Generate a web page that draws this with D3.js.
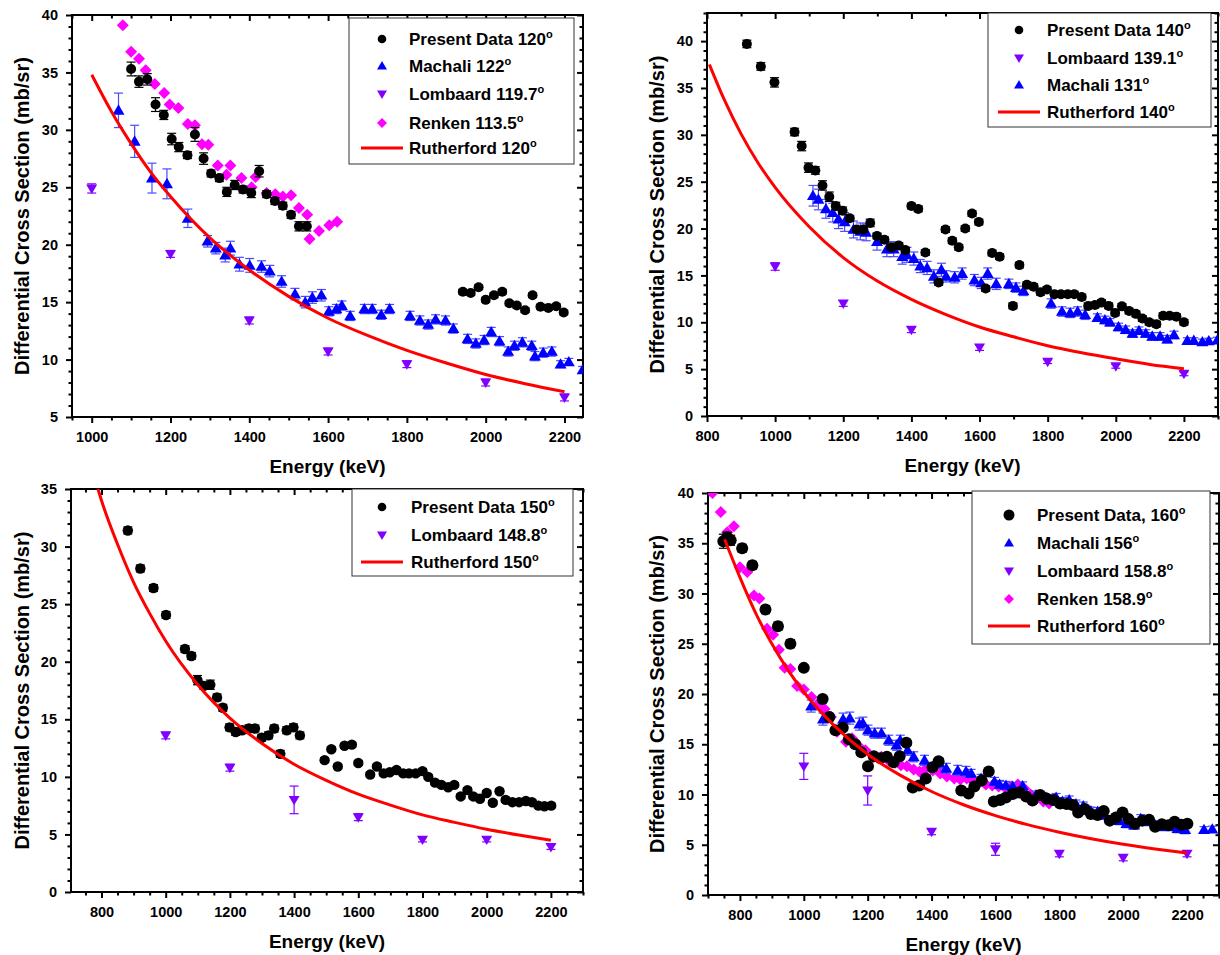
<!DOCTYPE html>
<html>
<head>
<meta charset="utf-8">
<script src="https://cdn.jsdelivr.net/npm/d3@7"></script>
<style>
  body { margin: 0; background: #fff; }
</style>
</head>
<body>
<svg id="chart" width="1220" height="955"></svg>
<script>
// ---------- data: [energy keV, cross section mb/sr, error] ----------
// 120 degrees
const present120 = [[1100,35.3,0.6],[1120,34.2,0.5],[1141,34.4,0.5],[1162,32.2,0.6],[1183,31.3,0.4],[1203,29.2,0.5],[1221,28.5,0.4],[1243,27.8,0.3],[1262,29.6,0.6],[1284,27.5,0.5],[1303,26.2,0.3],[1324,25.8,0.3],[1343,24.6,0.4],[1363,25.2,0.4],[1384,24.8,0.3],[1405,24.5,0.4],[1425,26.4,0.5],[1444,24.4,0.3],[1465,23.8,0.3],[1485,23.4,0.3],[1506,22.6,0.3],[1526,21.6,0.4],[1546,21.6,0.4],[1942,15.9,0.2],[1962,15.8,0.2],[1982,16.3,0.2],[2000,15.2,0.2],[2021,15.6,0.2],[2042,15.9,0.2],[2060,14.9,0.2],[2079,14.7,0.2],[2100,14.3,0.2],[2119,15.6,0.2],[2139,14.6,0.2],[2159,14.5,0.2],[2179,14.65,0.2],[2198,14.1,0.2]];
const machali122 = [[1068,31.7,1.5],[1109,29.0,1.4],[1153,25.8,1.3],[1191,25.3,1.3],[1244,22.3,0.8],[1294,20.3,0.5],[1315,19.7,0.5],[1339,19.1,0.6],[1352,19.7,0.6],[1375,18.3,0.6],[1401,18.2,0.6],[1431,18.1,0.5],[1452,17.7,0.5],[1482,16.8,0.5],[1516,15.7,0.5],[1542,15.0,0.5],[1560,15.4,0.5],[1583,15.6,0.5],[1602,14.2,0.4],[1621,14.4,0.4],[1635,14.7,0.4],[1656,13.8,0.4],[1692,14.4,0.4],[1712,14.4,0.4],[1735,13.9,0.4],[1756,14.4,0.4],[1808,13.8,0.4],[1833,13.4,0.4],[1854,13.05,0.4],[1873,13.5,0.4],[1898,13.4,0.4],[1918,12.7,0.4],[1954,11.8,0.4],[1975,11.4,0.4],[1996,11.7,0.4],[2014,12.4,0.4],[2035,11.6,0.4],[2057,10.7,0.4],[2073,11.2,0.4],[2093,11.5,0.4],[2117,11.2,0.4],[2125,10.3,0.4],[2146,10.6,0.4],[2168,10.7,0.4],[2190,9.6,0.3],[2211,9.8,0.3],[2246,9.1,0.3]];
const lombaard119 = [[1000,24.9,0.4],[1200,19.2,0.3],[1400,13.4,0.3],[1600,10.7,0.3],[1800,9.6,0.3],[2000,8.0,0.3],[2200,6.7,0.3]];
const renken113 = [[1079,39.1],[1100,36.8],[1120,36.2],[1137,35.2],[1160,34.0],[1184,33.2],[1198,32.2],[1220,31.9],[1244,30.5],[1262,30.4],[1280,28.75],[1296,28.7],[1320,26.9],[1342,26.1],[1352,26.9],[1380,25.8],[1406,25.0],[1416,25.9],[1444,24.5],[1466,24.4],[1485,24.2],[1506,24.3],[1526,23.2],[1547,22.6],[1553,20.5],[1577,21.2],[1603,21.7],[1623,22.0]];
const ruth120 = [[1000,34.8],[1050,31.6],[1100,28.8],[1150,26.3],[1200,24.2],[1300,20.6],[1400,17.8],[1500,15.5],[1600,13.6],[1700,12.1],[1800,10.8],[1900,9.7],[2000,8.7],[2100,7.9],[2200,7.2]];

// 140 degrees
const present140 = [[917,39.7,0.4],[958,37.3,0.4],[998,35.6,0.5],[1057,30.3,0.4],[1078,28.8,0.5],[1098,26.5,0.5],[1118,26.2,0.4],[1139,24.6,0.5],[1159,23.4,0.5],[1178,22.4,0.4],[1198,21.9,0.4],[1219,21.1,0.3],[1240,19.9,0.3],[1259,19.9,0.3],[1279,20.6,0.4],[1299,19.2,0.3],[1321,18.8,0.3],[1341,18.0,0.3],[1363,18.2,0.3],[1382,17.7,0.3],[1400,22.4,0.3],[1420,22.1,0.3],[1441,17.45,0.3],[1480,14.25,0.3],[1500,19.9,0.3],[1520,18.7,0.3],[1539,18.0,0.3],[1558,20.0,0.3],[1578,21.6,0.3],[1598,20.7,0.3],[1618,13.6,0.3],[1637,17.4,0.3],[1659,17.0,0.3],[1698,11.75,0.3],[1717,16.1,0.3],[1739,14.0,0.3],[1759,13.8,0.3],[1779,13.2,0.3],[1798,13.5,0.3],[1820,13.0,0.3],[1839,13.0,0.3],[1859,13.0,0.3],[1878,13.0,0.3],[1900,12.7,0.3],[1919,11.75,0.3],[1939,11.85,0.3],[1958,12.1,0.3],[1979,11.75,0.3],[1998,11.0,0.3],[2018,11.7,0.3],[2039,11.2,0.3],[2059,10.9,0.3],[2078,10.4,0.3],[2098,10.0,0.3],[2119,9.8,0.3],[2139,10.7,0.3],[2158,10.7,0.3],[2178,10.6,0.3],[2200,10.0,0.3]];
const lombaard139 = [[1000,15.95,0.4],[1200,12.0,0.3],[1400,9.2,0.3],[1600,7.3,0.3],[1800,5.8,0.2],[2000,5.3,0.2],[2200,4.5,0.2]];
const machali131 = [[1111,23.5,1.1],[1127,23.1,1.1],[1149,22.1,1.0],[1169,21.7,1.0],[1186,21.0,1.0],[1204,20.7,1.0],[1230,19.9,0.9],[1250,19.7,0.9],[1267,19.6,0.9],[1299,18.6,0.9],[1328,17.8,0.8],[1348,17.8,0.8],[1373,17.0,0.8],[1387,17.2,0.8],[1407,16.8,0.7],[1426,16.0,0.7],[1446,15.8,0.7],[1466,14.9,0.7],[1488,15.6,0.7],[1502,14.9,0.6],[1527,14.8,0.6],[1549,15.2,0.6],[1585,14.5,0.6],[1605,14.2,0.6],[1624,15.2,0.6],[1649,14.1,0.6],[1686,14.1,0.5],[1707,13.7,0.5],[1729,13.35,0.5],[1810,12.0,0.5],[1842,11.15,0.5],[1866,11.0,0.5],[1888,11.15,0.5],[1910,10.8,0.5],[1946,10.5,0.4],[1968,10.25,0.4],[1983,10.0,0.4],[2008,9.5,0.4],[2029,9.2,0.4],[2049,8.8,0.4],[2068,9.1,0.4],[2088,8.8,0.4],[2107,8.5,0.4],[2130,8.5,0.4],[2151,8.2,0.4],[2171,8.65,0.4],[2210,8.05,0.3],[2229,8.05,0.3],[2254,7.9,0.3],[2273,8.0,0.3],[2298,8.1,0.3]];
const ruth140 = [[807,37.5],[850,33.8],[900,30.1],[950,27.0],[1000,24.4],[1100,20.2],[1200,16.9],[1300,14.4],[1400,12.45],[1500,10.85],[1600,9.5],[1700,8.45],[1800,7.5],[1900,6.75],[2000,6.1],[2100,5.5],[2200,5.05]];

// 150 degrees
const present150 = [[882,31.4,0.3],[921,28.1,0.3],[962,26.4,0.3],[1001,24.06,0.3],[1060,21.1,0.3],[1080,20.5,0.3],[1099,18.4,0.4],[1119,17.9,0.3],[1139,18.0,0.4],[1160,16.9,0.3],[1178,16.0,0.3],[1199,14.3,0.3],[1218,13.9,0.3],[1238,14.05,0.3],[1259,14.2,0.3],[1278,14.2,0.3],[1299,13.4,0.3],[1320,13.6,0.3],[1338,14.2,0.3],[1357,12.0,0.3],[1377,14.05,0.3],[1398,14.3,0.3],[1418,13.6,0.3],[1495,11.45,0.2],[1516,12.4,0.2],[1536,10.9,0.2],[1557,12.7,0.2],[1580,12.8,0.2],[1600,11.2,0.2],[1637,10.2,0.2],[1658,10.9,0.2],[1679,10.3,0.2],[1698,10.4,0.2],[1719,10.6,0.2],[1740,10.3,0.2],[1758,10.3,0.2],[1779,10.3,0.2],[1800,10.5,0.2],[1818,10.0,0.2],[1839,9.5,0.2],[1859,9.3,0.2],[1880,9.1,0.2],[1899,9.3,0.2],[1919,8.3,0.2],[1940,8.85,0.2],[1958,8.3,0.2],[1979,8.1,0.2],[2000,8.6,0.2],[2019,7.75,0.2],[2040,8.75,0.2],[2059,8.0,0.2],[2080,7.8,0.2],[2101,7.8,0.2],[2122,7.9,0.2],[2141,7.8,0.2],[2161,7.5,0.2],[2180,7.45,0.2],[2201,7.5,0.2]];
const lombaard148 = [[1000,13.6,0.3],[1200,10.8,0.3],[1400,8.0,1.2],[1600,6.5,0.3],[1800,4.55,0.2],[2000,4.55,0.2],[2200,3.9,0.2]];
const ruth150 = [[789,35.0],[800,34.0],[850,30.2],[900,26.9],[950,24.2],[1000,21.8],[1100,18.0],[1200,15.1],[1300,12.9],[1400,11.1],[1500,9.7],[1600,8.5],[1700,7.55],[1800,6.7],[1900,6.05],[2000,5.45],[2100,4.95],[2200,4.5]];

// 160 degrees
const present160 = [[748,35.2,0.7],[760,35.6,0.5],[771,35.3,0.5],[807,34.5,0.4],[839,32.8,0.4],[880,28.4,0.4],[919,26.75,0.4],[958,25.0,0.4],[1000,22.6,0.3],[1059,19.5,0.3],[1080,17.7,0.3],[1099,16.4,0.3],[1122,16.65,0.3],[1141,15.5,0.3],[1161,15.0,0.3],[1180,14.2,0.3],[1201,12.8,0.3],[1219,13.8,0.3],[1240,13.6,0.3],[1260,13.75,0.3],[1281,13.2,0.3],[1300,13.8,0.3],[1321,15.15,0.3],[1341,10.7,0.3],[1361,10.9,0.3],[1382,11.6,0.3],[1403,12.7,0.3],[1422,13.3,0.3],[1493,10.4,0.2],[1516,10.1,0.2],[1534,10.8,0.2],[1557,11.4,0.2],[1579,12.3,0.2],[1595,9.3,0.2],[1615,9.45,0.2],[1633,9.7,0.2],[1654,10.05,0.2],[1675,10.2,0.2],[1696,9.8,0.2],[1716,9.4,0.2],[1740,9.95,0.2],[1760,9.6,0.2],[1781,9.45,0.2],[1802,9.1,0.2],[1823,9.05,0.2],[1842,8.95,0.2],[1859,8.2,0.2],[1880,8.55,0.2],[1899,8.05,0.2],[1920,7.95,0.2],[1939,8.35,0.2],[1958,7.4,0.2],[1977,7.7,0.2],[1998,8.2,0.2],[2017,7.55,0.2],[2037,7.1,0.2],[2060,7.4,0.2],[2081,7.5,0.2],[2100,6.8,0.2],[2121,7.05,0.2],[2142,6.95,0.2],[2161,7.3,0.2],[2182,7.0,0.2],[2201,7.1,0.2]];
const machali156 = [[1023,18.8,0.6],[1060,17.5,0.6],[1123,17.5,0.6],[1144,17.6,0.6],[1174,17.0,0.6],[1185,17.1,0.6],[1201,16.4,0.5],[1222,16.1,0.5],[1243,16.1,0.5],[1266,15.4,0.5],[1290,14.9,0.5],[1302,15.4,0.5],[1325,14.4,0.5],[1344,13.75,0.5],[1378,13.4,0.5],[1425,13.1,0.5],[1446,12.6,0.5],[1482,12.4,0.5],[1508,12.3,0.5],[1524,12.1,0.4],[1555,11.6,0.4],[1597,11.3,0.4],[1613,11.0,0.4],[1633,10.9,0.4],[1654,10.8,0.4],[1685,10.85,0.4],[1727,9.95,0.4],[1748,9.8,0.4],[1769,9.45,0.4],[1790,9.7,0.4],[1810,9.3,0.4],[1831,9.45,0.4],[1852,9.05,0.4],[1875,8.85,0.4],[1899,8.35,0.4],[1920,8.3,0.4],[1943,7.95,0.4],[1967,7.5,0.4],[1988,7.4,0.4],[2010,7.1,0.4],[2034,6.95,0.4],[2055,7.6,0.4],[2079,7.3,0.4],[2102,6.95,0.4],[2125,6.8,0.4],[2149,6.8,0.4],[2170,6.6,0.4],[2194,6.5,0.4],[2253,6.5,0.3],[2279,6.55,0.3]];
const lombaard158 = [[1000,12.8,1.3],[1200,10.4,1.45],[1400,6.3,0.3],[1600,4.55,0.6],[1800,4.1,0.3],[2000,3.7,0.3],[2200,4.1,0.3]];
const renken158 = [[714,40.0],[740,38.1],[760,36.1],[781,36.7],[800,32.6],[823,32.15],[844,29.8],[861,29.5],[885,26.5],[904,25.9],[922,24.4],[940,22.6],[958,22.5],[979,20.8],[1000,20.45],[1024,19.7],[1044,19.0],[1065,18.5],[1085,17.7],[1104,16.25],[1132,15.25],[1151,15.6],[1174,14.75],[1193,14.4],[1219,13.75],[1243,13.75],[1266,13.35],[1286,13.15],[1304,12.9],[1323,12.8],[1344,12.5],[1362,12.3],[1380,12.5],[1404,12.4],[1427,12.1],[1448,11.8],[1471,11.6],[1490,11.5],[1510,11.6],[1530,11.3],[1550,11.2],[1570,11.0],[1590,10.9],[1610,10.8],[1630,10.7],[1650,10.8],[1670,11.0],[1690,10.6],[1710,10.0],[1730,9.6],[1750,9.3],[1768,9.1]];
const ruth160 = [[752,35.4],[800,31.6],[850,28.0],[900,25.0],[950,22.4],[1000,20.2],[1100,16.7],[1200,14.0],[1300,11.95],[1400,10.3],[1500,8.98],[1600,7.9],[1700,7.0],[1800,6.25],[1900,5.6],[2000,5.05],[2100,4.58],[2200,4.17]];

// tick values
const ticksY120 = [5, 10, 15, 20, 25, 30, 35, 40];
const ticksY0to40 = [0, 5, 10, 15, 20, 25, 30, 35, 40];
const ticksY0to35 = [0, 5, 10, 15, 20, 25, 30, 35];
const ticksX120 = [1000, 1200, 1400, 1600, 1800, 2000, 2200];
const ticksX800 = [800, 1000, 1200, 1400, 1600, 1800, 2000, 2200];

// ---------- drawing ----------
const FONT = "Arial, 'Liberation Sans', Helvetica, sans-serif";
const COLOR = {
  present: '#000000',
  machali: '#0000ff',
  machaliErr: '#4a4aff',
  lombaard: '#8000ff',
  renken: '#ff00ff',
  ruth: '#ff0000'
};
const svg = d3.select('#chart');

// marker path builders, centred on (0,0)
function markerPath(kind, s) {
  if (kind === 'circle') {
    const p = d3.path(); p.arc(0, 0, s, 0, 2 * Math.PI); p.closePath(); return p.toString();
  }
  if (kind === 'up') {
    const w = s, h = s * 0.86;
    return `M0,${-h * 0.58}L${w / 2},${h * 0.42}L${-w / 2},${h * 0.42}Z`;
  }
  if (kind === 'down') {
    const w = s, h = s * 0.86;
    return `M0,${h * 0.58}L${w / 2},${-h * 0.42}L${-w / 2},${-h * 0.42}Z`;
  }
  // diamond
  const d = s / 2;
  return `M0,${-d}L${d},0L0,${d}L${-d},0Z`;
}

function sup(textSel, main) {
  textSel.append('tspan').text(main);
  textSel.append('tspan').text('o').attr('font-size', 11).attr('dy', -7);
}

function drawPanel(cfg) {
  const x = d3.scaleLinear().domain(cfg.xDomain).range([cfg.left, cfg.right]);
  const y = d3.scaleLinear().domain(cfg.yDomain).range([cfg.bottom, cfg.top]);
  const g = svg.append('g');

  const clipId = 'clip-' + cfg.id;
  g.append('clipPath').attr('id', clipId).append('rect')
    .attr('x', cfg.left).attr('y', cfg.top)
    .attr('width', cfg.right - cfg.left).attr('height', cfg.bottom - cfg.top);

  // minor tick values between the domain ends
  const minorX = d3.range(Math.ceil(cfg.xDomain[0] / cfg.xMinor) * cfg.xMinor, cfg.xDomain[1] + 0.01, cfg.xMinor)
    .filter(v => !cfg.xTicks.includes(v));
  const minorY = d3.range(Math.ceil(cfg.yDomain[0]), cfg.yDomain[1] + 0.01, 1)
    .filter(v => !cfg.yTicks.includes(v));

  const styleAxis = sel => {
    sel.select('.domain').remove();
    sel.selectAll('line').attr('stroke', '#000').attr('stroke-width', 2);
    sel.selectAll('text').attr('font-family', FONT).attr('font-weight', 'bold')
      .attr('font-size', 14.5).attr('fill', '#000');
  };

  // bottom axis (outward ticks)
  g.append('g').attr('transform', `translate(0,${cfg.bottom})`)
    .call(d3.axisBottom(x).tickValues(cfg.xTicks).tickSize(6).tickPadding(9).tickFormat(d3.format('d')))
    .call(styleAxis);
  g.append('g').attr('transform', `translate(0,${cfg.bottom})`)
    .call(d3.axisBottom(x).tickValues(minorX).tickSize(3.5).tickFormat(''))
    .call(styleAxis);
  // top axis (inward ticks)
  g.append('g').attr('transform', `translate(0,${cfg.top})`)
    .call(d3.axisBottom(x).tickValues(cfg.xTicks).tickSize(6).tickFormat(''))
    .call(styleAxis);
  g.append('g').attr('transform', `translate(0,${cfg.top})`)
    .call(d3.axisBottom(x).tickValues(minorX).tickSize(3.5).tickFormat(''))
    .call(styleAxis);
  // left axis (outward ticks)
  g.append('g').attr('transform', `translate(${cfg.left},0)`)
    .call(d3.axisLeft(y).tickValues(cfg.yTicks).tickSize(6).tickPadding(8).tickFormat(d3.format('d')))
    .call(styleAxis);
  g.append('g').attr('transform', `translate(${cfg.left},0)`)
    .call(d3.axisLeft(y).tickValues(minorY).tickSize(3.5).tickFormat(''))
    .call(styleAxis);
  // right axis (inward ticks)
  g.append('g').attr('transform', `translate(${cfg.right},0)`)
    .call(d3.axisLeft(y).tickValues(cfg.yTicks).tickSize(6).tickFormat(''))
    .call(styleAxis);
  g.append('g').attr('transform', `translate(${cfg.right},0)`)
    .call(d3.axisLeft(y).tickValues(minorY).tickSize(3.5).tickFormat(''))
    .call(styleAxis);

  // frame
  g.append('rect')
    .attr('x', cfg.left).attr('y', cfg.top)
    .attr('width', cfg.right - cfg.left).attr('height', cfg.bottom - cfg.top)
    .attr('fill', 'none').attr('stroke', '#000').attr('stroke-width', 2);

  // axis titles
  g.append('text')
    .attr('x', (cfg.left + cfg.right) / 2).attr('y', cfg.bottom + 56)
    .attr('text-anchor', 'middle')
    .attr('font-family', FONT).attr('font-weight', 'bold').attr('font-size', 19)
    .text('Energy (keV)');
  g.append('text')
    .attr('transform', `translate(${cfg.titleX},${(cfg.top + cfg.bottom) / 2}) rotate(-90)`)
    .attr('text-anchor', 'middle').attr('dominant-baseline', 'central')
    .attr('font-family', FONT).attr('font-weight', 'bold').attr('font-size', 20)
    .text('Differential Cross Section (mb/sr)');

  // data layer
  const plot = g.append('g').attr('clip-path', `url(#${clipId})`);

  cfg.series.forEach(s => {
    const layer = plot.append('g');
    if (s.type === 'line') {
      layer.append('path')
        .datum(s.data)
        .attr('fill', 'none').attr('stroke', s.color).attr('stroke-width', 3)
        .attr('d', d3.line().x(d => x(d[0])).y(d => y(d[1])).curve(d3.curveMonotoneX));
      return;
    }
    // error bars with caps
    const withErr = s.data.filter(d => d[2]);
    const cap = 4.5;
    const eb = layer.append('g').attr('stroke', s.errColor || s.color).attr('stroke-width', 1.2);
    eb.selectAll('line.v').data(withErr).join('line').attr('class', 'v')
      .attr('x1', d => x(d[0])).attr('x2', d => x(d[0]))
      .attr('y1', d => y(d[1] - d[2])).attr('y2', d => y(d[1] + d[2]));
    eb.selectAll('line.t').data(withErr).join('line').attr('class', 't')
      .attr('x1', d => x(d[0]) - cap).attr('x2', d => x(d[0]) + cap)
      .attr('y1', d => y(d[1] + d[2])).attr('y2', d => y(d[1] + d[2]));
    eb.selectAll('line.b').data(withErr).join('line').attr('class', 'b')
      .attr('x1', d => x(d[0]) - cap).attr('x2', d => x(d[0]) + cap)
      .attr('y1', d => y(d[1] - d[2])).attr('y2', d => y(d[1] - d[2]));
    // markers
    layer.selectAll('path.m').data(s.data).join('path').attr('class', 'm')
      .attr('transform', d => `translate(${x(d[0])},${y(d[1])})`)
      .attr('d', markerPath(s.marker, s.size))
      .attr('fill', s.color);
  });

  // legend
  const L = cfg.legend;
  const lg = g.append('g');
  lg.append('rect').attr('x', L.x).attr('y', L.y).attr('width', L.w).attr('height', L.h)
    .attr('fill', '#fff').attr('stroke', '#333').attr('stroke-width', 1);
  L.rows.forEach((r, i) => {
    const ry = L.rowY[i];
    if (r.marker === 'line') {
      lg.append('line').attr('x1', L.mx - 21).attr('x2', L.mx + 21)
        .attr('y1', ry).attr('y2', ry).attr('stroke', r.color).attr('stroke-width', 3);
    } else {
      lg.append('path').attr('transform', `translate(${L.mx},${ry})`)
        .attr('d', markerPath(r.marker, r.size)).attr('fill', r.color);
    }
    const t = lg.append('text').attr('x', L.tx).attr('y', ry + 6)
      .attr('font-family', FONT).attr('font-weight', 'bold').attr('font-size', 17).attr('fill', '#000');
    sup(t, r.label);
  });
}

// ---------- panels ----------
drawPanel({
  id: 'p120', left: 72, right: 583, top: 15, bottom: 417,
  xDomain: [950, 2247], yDomain: [5, 40], xTicks: ticksX120, yTicks: ticksY120, xMinor: 50,
  titleX: 22,
  series: [
    { data: renken113, marker: 'diamond', size: 12, color: COLOR.renken },
    { data: machali122, marker: 'up', size: 12, color: COLOR.machali, errColor: COLOR.machaliErr },
    { data: lombaard119, marker: 'down', size: 11, color: COLOR.lombaard },
    { data: present120, marker: 'circle', size: 5, color: COLOR.present },
    { data: ruth120, type: 'line', color: COLOR.ruth }
  ],
  legend: {
    x: 349, y: 18, w: 225, h: 146, mx: 382, tx: 409, rowY: [39, 66, 94, 123, 148],
    rows: [
      { label: 'Present Data 120', marker: 'circle', size: 4.3, color: COLOR.present },
      { label: 'Machali 122', marker: 'up', size: 10, color: COLOR.machali },
      { label: 'Lombaard 119.7', marker: 'down', size: 10, color: COLOR.lombaard },
      { label: 'Renken 113.5', marker: 'diamond', size: 10, color: COLOR.renken },
      { label: 'Rutherford 120', marker: 'line', color: COLOR.ruth }
    ]
  }
});

drawPanel({
  id: 'p140', left: 707, right: 1218, top: 13, bottom: 416,
  xDomain: [800, 2300], yDomain: [0, 43], xTicks: ticksX800, yTicks: ticksY0to40, xMinor: 100,
  titleX: 657,
  series: [
    { data: machali131, marker: 'up', size: 12, color: COLOR.machali, errColor: COLOR.machaliErr },
    { data: lombaard139, marker: 'down', size: 11, color: COLOR.lombaard },
    { data: present140, marker: 'circle', size: 5, color: COLOR.present },
    { data: ruth140, type: 'line', color: COLOR.ruth }
  ],
  legend: {
    x: 988, y: 13, w: 223, h: 114, mx: 1019, tx: 1047, rowY: [30, 58, 85, 112],
    rows: [
      { label: 'Present Data 140', marker: 'circle', size: 4.3, color: COLOR.present },
      { label: 'Lombaard 139.1', marker: 'down', size: 10, color: COLOR.lombaard },
      { label: 'Machali 131', marker: 'up', size: 10, color: COLOR.machali },
      { label: 'Rutherford 140', marker: 'line', color: COLOR.ruth }
    ]
  }
});

drawPanel({
  id: 'p150', left: 71, right: 583, top: 489, bottom: 892,
  xDomain: [705, 2300], yDomain: [0, 35], xTicks: ticksX800, yTicks: ticksY0to35, xMinor: 50,
  titleX: 22,
  series: [
    { data: lombaard148, marker: 'down', size: 11, color: COLOR.lombaard },
    { data: present150, marker: 'circle', size: 5.2, color: COLOR.present },
    { data: ruth150, type: 'line', color: COLOR.ruth }
  ],
  legend: {
    x: 352, y: 489, w: 221, h: 87, mx: 382, tx: 411, rowY: [507, 535, 562],
    rows: [
      { label: 'Present Data 150', marker: 'circle', size: 4.3, color: COLOR.present },
      { label: 'Lombaard 148.8', marker: 'down', size: 10, color: COLOR.lombaard },
      { label: 'Rutherford 150', marker: 'line', color: COLOR.ruth }
    ]
  }
});

drawPanel({
  id: 'p160', left: 708, right: 1219, top: 493, bottom: 895,
  xDomain: [700, 2300], yDomain: [0, 40], xTicks: ticksX800, yTicks: ticksY0to40, xMinor: 50,
  titleX: 657,
  series: [
    { data: renken158, marker: 'diamond', size: 12, color: COLOR.renken },
    { data: machali156, marker: 'up', size: 12, color: COLOR.machali, errColor: COLOR.machaliErr },
    { data: lombaard158, marker: 'down', size: 11, color: COLOR.lombaard },
    { data: present160, marker: 'circle', size: 6, color: COLOR.present },
    { data: ruth160, type: 'line', color: COLOR.ruth }
  ],
  legend: {
    x: 972, y: 491, w: 238, h: 153, mx: 1009, tx: 1037, rowY: [515, 543, 571, 599, 626],
    rows: [
      { label: 'Present Data, 160', marker: 'circle', size: 5.5, color: COLOR.present },
      { label: 'Machali 156', marker: 'up', size: 10, color: COLOR.machali },
      { label: 'Lombaard 158.8', marker: 'down', size: 10, color: COLOR.lombaard },
      { label: 'Renken 158.9', marker: 'diamond', size: 10, color: COLOR.renken },
      { label: 'Rutherford 160', marker: 'line', color: COLOR.ruth }
    ]
  }
});
</script>
</body>
</html>
